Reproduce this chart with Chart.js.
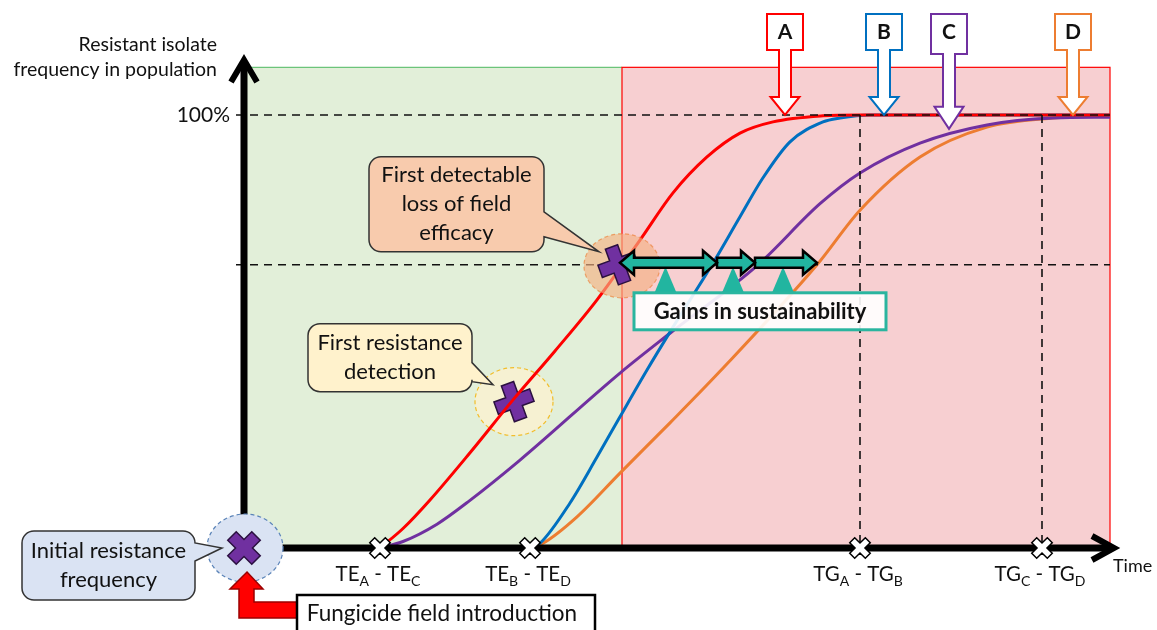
<!DOCTYPE html>
<html>
<head>
<meta charset="utf-8">
<script src="https://cdn.jsdelivr.net/npm/chart.js@4.4.1/dist/chart.umd.min.js"></script>
<style>
  html, body { margin: 0; padding: 0; background: #fff; }
  #wrap { width: 1157px; height: 630px; position: relative; }
</style>
</head>
<body>
<div id="wrap"><canvas id="chart"></canvas></div>
<script>
const FONT = 'Lato, "Open Sans", sans-serif';

// resistance curves: time (x) vs % resistant isolates (y)
const redX = [14, 16.3, 19, 23, 27.3, 31.5, 35.7, 40, 43.3, 46.7, 50, 53.3, 58.3, 62, 87];
const redY = [0, 4.5, 11.1, 22, 34.2, 45.5, 57.3, 71.1, 82, 90.3, 95.8, 98.4, 99.8, 100, 100];
const blueX = [29, 30, 33, 35.7, 38, 40.7, 43.3, 47.2, 50, 52.3, 55, 58.3, 60, 63, 87];
const blueY = [0, 1.1, 10.4, 21, 30.3, 41.1, 51, 65.4, 76.5, 85.5, 93.8, 98.4, 99.3, 100, 100];
const purpleX = [14, 16.3, 19.7, 23, 28, 38, 43, 51.8, 58, 62, 68, 74.7, 81.3, 87];
const purpleY = [0, 1.5, 5.5, 11, 20.3, 40.4, 49.6, 65.4, 79.5, 86.6, 93.5, 97.7, 99.3, 99.5];
const orangeX = [29, 30.3, 33.7, 38, 43, 48, 57.7, 62, 68, 74.7, 81.3, 87];
const orangeY = [0, 1.1, 7.2, 17.3, 28.9, 40.8, 65.4, 78, 90.3, 97.2, 99.3, 99.8];

const seriesNames = ['A', 'B', 'C', 'D'];
const seriesColors = ['#ff0000', '#0070c0', '#7030a0', '#ed7d31'];

// milestones on the time axis
const tickX = [14, 29, 62, 80.2];
const tickLabels = [['TE', 'A', 'TE', 'C'], ['TE', 'B', 'TE', 'D'], ['TG', 'A', 'TG', 'B'], ['TG', 'C', 'TG', 'D']];
const gridX = [62, 80.2];
const levelY = [100, 65.4];
const yTickLabel = '100%';

// phases: before / after loss of field efficacy
const phaseX = [0.4, 38.2, 87];
const phaseTop = 111;

// letter pointers onto the curves
const letterX = [54.5, 64.4, 70.9, 83.3];
const letterY = [100, 100, 96.8, 100];

// events: initial frequency, first detection, loss of efficacy
const eventX = [0.4, 27.4, 37.8];
const eventY = [0, 33.8, 65.4];
const gainsX = [38, 47.7, 51.5, 57.7];

function pts(xs, ys) {
    return xs.map((v, i) => ({ x: v, y: ys[i] }));
}

function ellipse(ctx, cx, cy, rx, ry, fill, stroke) {
    ctx.save();
    ctx.beginPath();
    ctx.ellipse(cx, cy, rx, ry, 0, 0, Math.PI * 2);
    ctx.fillStyle = fill;
    ctx.fill();
    ctx.setLineDash([4, 3]);
    ctx.lineWidth = 1.2;
    ctx.strokeStyle = stroke;
    ctx.stroke();
    ctx.restore();
}

function cross(ctx, cx, cy, half, arm, angle, fill, stroke, lw) {
    const p = [[-arm, -half], [arm, -half], [arm, -arm], [half, -arm], [half, arm], [arm, arm],
        [arm, half], [-arm, half], [-arm, arm], [-half, arm], [-half, -arm], [-arm, -arm]];
    ctx.save();
    ctx.translate(cx, cy);
    ctx.rotate(angle);
    ctx.beginPath();
    p.forEach((q, i) => (i ? ctx.lineTo(q[0], q[1]) : ctx.moveTo(q[0], q[1])));
    ctx.closePath();
    ctx.fillStyle = fill;
    ctx.fill();
    ctx.lineWidth = lw;
    ctx.lineJoin = 'miter';
    ctx.strokeStyle = stroke;
    ctx.stroke();
    ctx.restore();
}

function callout(ctx, bx, by, w, h, p1, p2, tx, ty, fill, lines, lineH) {
    const r = 12;
    ctx.save();
    ctx.beginPath();
    ctx.moveTo(bx + r, by);
    ctx.lineTo(bx + w - r, by);
    ctx.arcTo(bx + w, by, bx + w, by + r, r);
    ctx.lineTo(bx + w, by + p1);
    ctx.lineTo(tx, ty);
    ctx.lineTo(bx + w, by + p2);
    ctx.lineTo(bx + w, by + h - r);
    ctx.arcTo(bx + w, by + h, bx + w - r, by + h, r);
    ctx.lineTo(bx + r, by + h);
    ctx.arcTo(bx, by + h, bx, by + h - r, r);
    ctx.lineTo(bx, by + r);
    ctx.arcTo(bx, by, bx + r, by, r);
    ctx.closePath();
    ctx.fillStyle = fill;
    ctx.fill();
    ctx.lineWidth = 1.5;
    ctx.strokeStyle = '#333';
    ctx.stroke();
    ctx.fillStyle = '#111';
    ctx.font = '22px ' + FONT;
    ctx.textAlign = 'center';
    ctx.textBaseline = 'middle';
    const y0 = by + h / 2 - (lines.length - 1) * lineH / 2;
    lines.forEach((t, i) => ctx.fillText(t, bx + w / 2, y0 + i * lineH));
    ctx.restore();
}

function letterArrow(ctx, cx, tip, headTop, boxBottom, color, letter) {
    const top = 14, bw = 18, sw = 6, hw = 14.5;
    const p = [[cx - bw, top], [cx + bw, top], [cx + bw, boxBottom], [cx + sw, boxBottom], [cx + sw, headTop],
        [cx + hw, headTop], [cx, tip], [cx - hw, headTop], [cx - sw, headTop], [cx - sw, boxBottom], [cx - bw, boxBottom]];
    ctx.save();
    ctx.beginPath();
    p.forEach((q, i) => (i ? ctx.lineTo(q[0], q[1]) : ctx.moveTo(q[0], q[1])));
    ctx.closePath();
    ctx.fillStyle = '#fff';
    ctx.fill();
    ctx.lineWidth = 2;
    ctx.strokeStyle = color;
    ctx.stroke();
    ctx.fillStyle = '#111';
    ctx.font = 'bold 21px ' + FONT;
    ctx.textAlign = 'center';
    ctx.textBaseline = 'middle';
    ctx.fillText(letter, cx, top + 18);
    ctx.restore();
}

function gainArrow(ctx, x1, x2, y, both) {
    const s = 5, hh = 12, hl = 14;
    ctx.save();
    ctx.beginPath();
    if (both) {
        ctx.moveTo(x1, y);
        ctx.lineTo(x1 + hl, y - hh);
        ctx.lineTo(x1 + hl, y - s);
    } else {
        ctx.moveTo(x1, y - s);
    }
    ctx.lineTo(x2 - hl, y - s);
    ctx.lineTo(x2 - hl, y - hh);
    ctx.lineTo(x2, y);
    ctx.lineTo(x2 - hl, y + hh);
    ctx.lineTo(x2 - hl, y + s);
    if (both) {
        ctx.lineTo(x1 + hl, y + s);
        ctx.lineTo(x1 + hl, y + hh);
    } else {
        ctx.lineTo(x1, y + s);
    }
    ctx.closePath();
    ctx.fillStyle = '#22b5a0';
    ctx.fill();
    ctx.lineWidth = 2.5;
    ctx.lineJoin = 'miter';
    ctx.strokeStyle = '#000';
    ctx.stroke();
    ctx.restore();
}

function subLabel(ctx, cx, baseY, parts) {
    const big = '20.5px ' + FONT, small = '14px ' + FONT;
    const segs = [[parts[0], big, 0], [parts[1], small, 5], [' - ' + parts[2], big, 0], [parts[3], small, 5]];
    let w = 0;
    segs.forEach((s) => { ctx.font = s[1]; w += ctx.measureText(s[0]).width; });
    let xx = cx - w / 2;
    ctx.textAlign = 'left';
    ctx.textBaseline = 'alphabetic';
    segs.forEach((s) => {
        ctx.font = s[1];
        ctx.fillText(s[0], xx, baseY + s[2]);
        xx += ctx.measureText(s[0]).width;
    });
}

const diagram = {
    id: 'diagram',
    beforeDatasetsDraw(chart) {
        const { ctx, chartArea: a, scales: { x, y } } = chart;
        const top = y.getPixelForValue(phaseTop);
        const x0 = x.getPixelForValue(phaseX[0]);
        const x1 = x.getPixelForValue(phaseX[1]);
        const x2 = x.getPixelForValue(phaseX[2]);
        ctx.save();
        ctx.fillStyle = '#e2efd9';
        ctx.fillRect(x0, top, x1 - x0, a.bottom - top);
        ctx.strokeStyle = '#6cc47a';
        ctx.lineWidth = 1.2;
        ctx.beginPath();
        ctx.moveTo(x0, top);
        ctx.lineTo(x1, top);
        ctx.stroke();
        ctx.fillStyle = '#f7cfd1';
        ctx.fillRect(x1, top, x2 - x1, a.bottom - top);
        ctx.strokeStyle = '#ff0000';
        ctx.strokeRect(x1, top, x2 - x1, a.bottom - top);
        ctx.restore();

        // first detection marker, under the red curve
        const ex = x.getPixelForValue(eventX[1]);
        const ey = y.getPixelForValue(eventY[1]);
        ellipse(ctx, ex, ey, 39, 34, '#f6f1d2', '#f2bd2a');
        cross(ctx, ex, ey, 19, 6.5, -0.35, '#7030a0', '#2b1040', 1.5);
    },
    afterDatasetsDraw(chart) {
        const { ctx, chartArea: a, scales: { x, y } } = chart;
        const ox = a.left, oy = y.getPixelForValue(0);

        // dashed guide lines
        ctx.save();
        ctx.setLineDash([8, 6]);
        ctx.lineWidth = 1.6;
        ctx.strokeStyle = '#111';
        levelY.forEach((v) => {
            const py = y.getPixelForValue(v);
            ctx.beginPath();
            ctx.moveTo(ox - 8, py);
            ctx.lineTo(a.right, py);
            ctx.stroke();
        });
        gridX.forEach((v) => {
            const px = x.getPixelForValue(v);
            ctx.beginPath();
            ctx.moveTo(px, y.getPixelForValue(levelY[0]));
            ctx.lineTo(px, oy);
            ctx.stroke();
        });
        ctx.restore();

        // axes with open arrow heads
        ctx.save();
        ctx.strokeStyle = '#000';
        ctx.lineWidth = 7;
        ctx.lineJoin = 'miter';
        ctx.beginPath();
        ctx.moveTo(ox, oy + 3);
        ctx.lineTo(ox, a.top - 2);
        ctx.moveTo(ox - 3, oy);
        ctx.lineTo(a.right + 2, oy);
        ctx.stroke();
        ctx.lineWidth = 6;
        ctx.beginPath();
        ctx.moveTo(ox - 13, a.top + 19);
        ctx.lineTo(ox, a.top - 3);
        ctx.lineTo(ox + 13, a.top + 19);
        ctx.moveTo(a.right - 18, oy - 12);
        ctx.lineTo(a.right + 4, oy);
        ctx.lineTo(a.right - 18, oy + 12);
        ctx.stroke();
        ctx.restore();

        // milestone markers and labels
        tickX.forEach((v, i) => {
            const px = x.getPixelForValue(v);
            cross(ctx, px, oy, 11, 3.5, Math.PI / 4, '#fff', '#000', 1.5);
            ctx.save();
            ctx.fillStyle = '#111';
            subLabel(ctx, px - 2, oy + 33, tickLabels[i]);
            ctx.restore();
        });

        // axis texts
        ctx.save();
        ctx.fillStyle = '#111';
        ctx.font = '19.5px ' + FONT;
        ctx.textAlign = 'right';
        ctx.textBaseline = 'alphabetic';
        ctx.fillText('Resistant isolate', ox - 27, 51);
        ctx.fillText('frequency in population', ox - 27, 76);
        ctx.font = '21px ' + FONT;
        ctx.textBaseline = 'middle';
        ctx.fillText(yTickLabel, ox - 14, y.getPixelForValue(levelY[0]));
        ctx.textAlign = 'left';
        ctx.font = '18px ' + FONT;
        ctx.textBaseline = 'alphabetic';
        ctx.fillText('Time', a.right + 3, oy + 24);
        ctx.restore();

        // initial resistance frequency
        const ix = x.getPixelForValue(eventX[0]);
        const iy = y.getPixelForValue(eventY[0]);
        ellipse(ctx, ix + 1, iy, 38, 34, '#dae3f3', '#5b84b8');
        cross(ctx, ix, iy, 17, 6, Math.PI / 4, '#7030a0', '#2b1040', 1.5);
        callout(ctx, ix - 222, iy - 17, 173, 69, 12, 30, ix - 22, iy, '#dae3f3',
            ['Initial resistance', 'frequency'], 29);

        // first resistance detection callout
        const dx = x.getPixelForValue(eventX[1]);
        const dy = y.getPixelForValue(eventY[1]);
        callout(ctx, dx - 206, dy - 78, 164, 68, 39, 58, dx - 21, dy - 17, '#fff2cc',
            ['First resistance', 'detection'], 29);

        // loss of field efficacy
        const lx = x.getPixelForValue(eventX[2]);
        const ly = y.getPixelForValue(eventY[2]);
        ctx.save();
        ctx.globalAlpha = 0.65;
        ellipse(ctx, lx + 4, ly + 1, 38, 32, '#f4b183', '#ed7d31');
        ctx.restore();
        cross(ctx, lx, ly, 19, 6.5, -0.35, '#7030a0', '#2b1040', 1.5);
        callout(ctx, lx - 249, ly - 108, 175, 95, 55, 80, lx - 19, ly - 13, '#f8cbad',
            ['First detectable', 'loss of field', 'efficacy'], 29);

        // gains in sustainability
        const gx = gainsX.map((v) => x.getPixelForValue(v));
        const gy = y.getPixelForValue(levelY[1]) - 2;
        const boxTop = gy + 30;
        ctx.save();
        ctx.fillStyle = '#22b5a0';
        for (let i = 0; i < 3; i++) {
            const m = (gx[i] + gx[i + 1]) / 2 - 3;
            ctx.beginPath();
            ctx.moveTo(m, gy + 4);
            ctx.lineTo(m + 11, boxTop);
            ctx.lineTo(m - 11, boxTop);
            ctx.closePath();
            ctx.fill();
        }
        ctx.restore();
        gainArrow(ctx, gx[2], gx[3], gy, false);
        gainArrow(ctx, gx[1], gx[2], gy, false);
        gainArrow(ctx, gx[0], gx[1], gy, true);
        ctx.save();
        ctx.fillStyle = 'rgba(255,255,255,0.9)';
        ctx.fillRect(gx[0] + 14, boxTop, 252, 37);
        ctx.lineWidth = 3;
        ctx.strokeStyle = '#2ab59f';
        ctx.strokeRect(gx[0] + 14, boxTop, 252, 37);
        ctx.fillStyle = '#111';
        ctx.font = 'bold 22px ' + FONT;
        ctx.textAlign = 'center';
        ctx.textBaseline = 'middle';
        ctx.fillText('Gains in sustainability', gx[0] + 140, boxTop + 19);
        ctx.restore();

        // letter pointers
        letterX.forEach((v, i) => {
            const px = x.getPixelForValue(v);
            const tip = y.getPixelForValue(letterY[i]);
            const tall = letterY[i] < 100;
            letterArrow(ctx, px, tip, tip - (tall ? 22 : 18), tall ? 54 : 50, seriesColors[i], seriesNames[i]);
        });

        // fungicide introduction
        ctx.save();
        ctx.beginPath();
        const r = [[ix + 3, iy + 24], [ix + 19, iy + 41], [ix + 10, iy + 41], [ix + 10, iy + 54], [ix + 53, iy + 54],
            [ix + 53, iy + 70], [ix - 5, iy + 70], [ix - 5, iy + 41], [ix - 14, iy + 41]];
        r.forEach((q, i) => (i ? ctx.lineTo(q[0], q[1]) : ctx.moveTo(q[0], q[1])));
        ctx.closePath();
        ctx.fillStyle = '#ff0000';
        ctx.fill();
        ctx.lineWidth = 1.5;
        ctx.strokeStyle = '#9c0000';
        ctx.stroke();
        ctx.fillStyle = '#fff';
        ctx.fillRect(ix + 53, iy + 47, 298, 50);
        ctx.lineWidth = 2.5;
        ctx.strokeStyle = '#000';
        ctx.strokeRect(ix + 53, iy + 47, 298, 50);
        ctx.fillStyle = '#111';
        ctx.font = '22.5px ' + FONT;
        ctx.textAlign = 'center';
        ctx.textBaseline = 'middle';
        ctx.fillText('Fungicide field introduction', ix + 198, iy + 66);
        ctx.restore();
    }
};

const curves = [[redX, redY], [blueX, blueY], [purpleX, purpleY], [orangeX, orangeY]];

new Chart(document.getElementById('chart'), {
    type: 'scatter',
    data: {
        datasets: curves.map((c, i) => ({
            label: seriesNames[i],
            data: pts(c[0], c[1]),
            showLine: true,
            borderColor: seriesColors[i],
            borderWidth: 3,
            pointRadius: 0,
            cubicInterpolationMode: 'monotone',
        })),
    },
    options: {
        responsive: true,
        maintainAspectRatio: false,
        animation: false,
        layout: { padding: { left: 244, right: 47, top: 63, bottom: 82 } },
        plugins: { legend: { display: false }, tooltip: { enabled: false } },
        scales: {
            x: { type: 'linear', min: 0.4, max: 87, display: false },
            y: { min: 0, max: 112, display: false },
        },
    },
    plugins: [diagram],
});
</script>
</body>
</html>
